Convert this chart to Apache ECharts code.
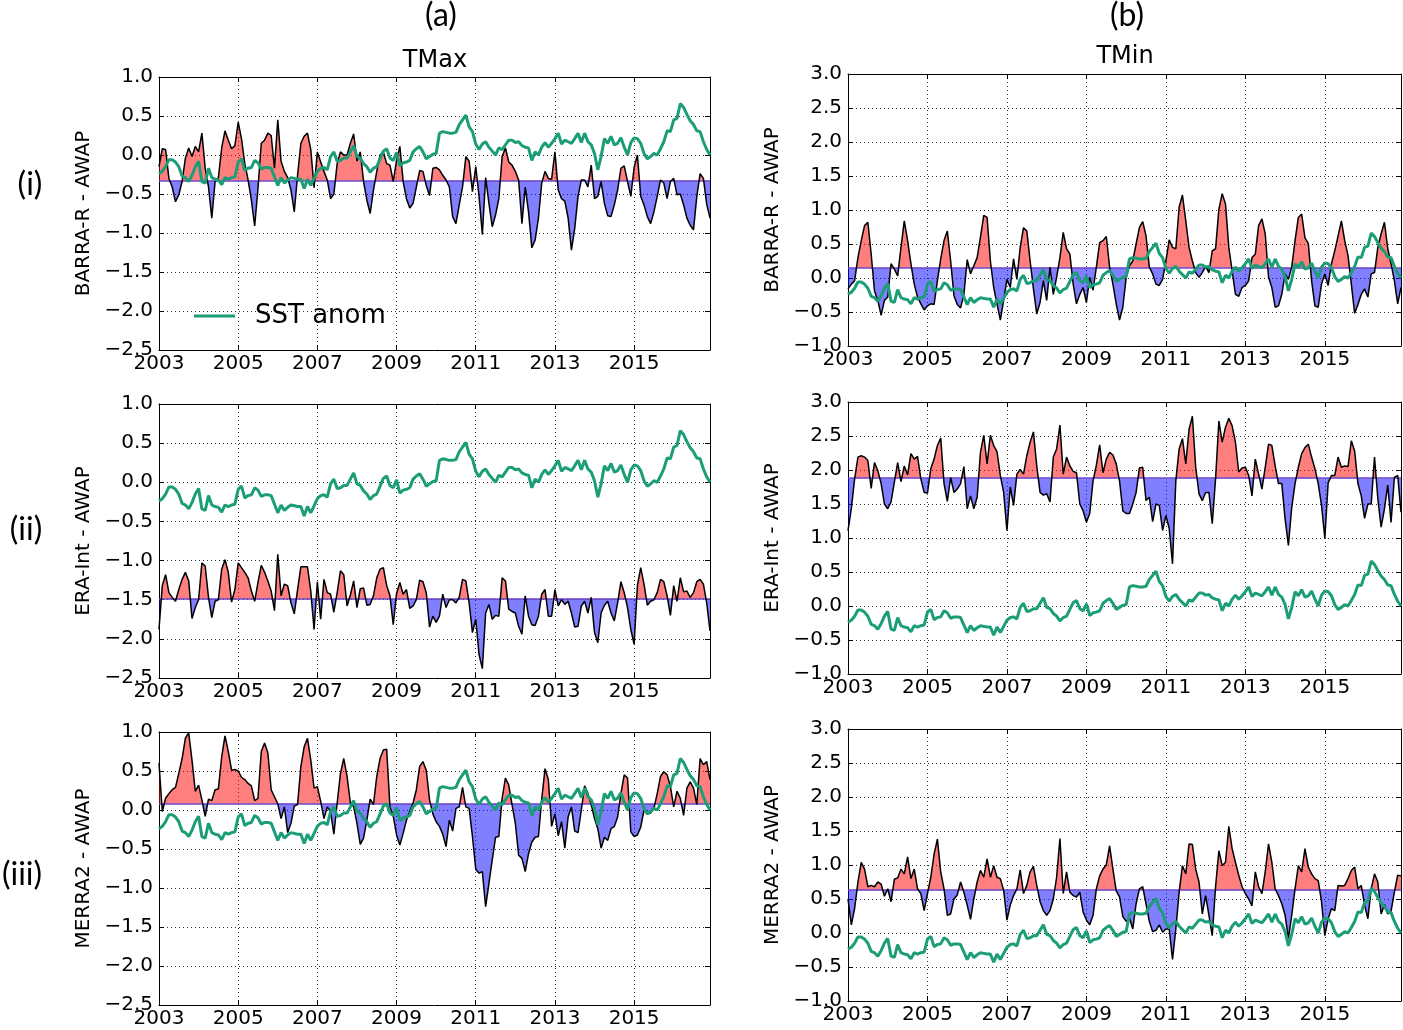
<!DOCTYPE html>
<html><head><meta charset="utf-8">
<script src="https://cdn.jsdelivr.net/npm/echarts@6/dist/echarts.min.js"></script>
<style>html,body{margin:0;padding:0;background:#fff}#chart{width:1403px;height:1030px}</style>
</head><body><div id="chart"></div>
<script>
// ---------------- data (monthly, Jan 2003 - Dec 2016) ----------------
const startYear = 2003;
const xTickYears = [2003, 2005, 2007, 2009, 2011, 2013, 2015];
const yTicksTmax = [-2.5, -2.0, -1.5, -1.0, -0.5, 0.0, 0.5, 1.0];
const yTicksTmin = [-1.0, -0.5, 0.0, 0.5, 1.0, 1.5, 2.0, 2.5, 3.0];

const sstAnom = [
 -0.24,-0.21,-0.15,-0.06,-0.06,-0.09,-0.15,-0.27,-0.29,-0.34,-0.26,-0.15,
 -0.08,-0.34,-0.36,-0.17,-0.29,-0.31,-0.32,-0.38,-0.29,-0.31,-0.29,-0.28,
 -0.09,-0.05,-0.20,-0.17,-0.16,-0.07,-0.10,-0.18,-0.16,-0.16,-0.17,-0.28,
 -0.39,-0.29,-0.36,-0.32,-0.29,-0.30,-0.31,-0.31,-0.43,-0.31,-0.39,-0.30,
 -0.21,-0.17,-0.16,-0.19,-0.02,0.04,-0.08,-0.07,-0.04,-0.04,0.04,0.12,
 -0.02,-0.04,-0.11,-0.15,-0.22,-0.17,-0.15,-0.05,0.05,0.08,-0.04,-0.07,
 0.03,-0.14,-0.10,-0.09,-0.07,0.04,0.08,0.11,0.04,-0.05,-0.02,0.01,
 0.02,0.28,0.30,0.29,0.28,0.28,0.29,0.39,0.45,0.51,0.36,0.30,
 0.14,0.07,0.14,0.17,0.10,0.05,0.00,0.09,0.07,0.13,0.19,0.19,
 0.16,0.17,0.12,0.10,0.09,-0.07,0.04,0.00,0.10,0.16,0.10,0.15,
 0.21,0.28,0.14,0.19,0.17,0.15,0.21,0.28,0.16,0.28,0.17,0.13,
 0.02,-0.19,-0.02,0.21,0.15,0.24,0.13,0.15,0.22,0.10,0.00,0.16,
 0.22,0.21,0.15,0.02,-0.05,-0.02,0.02,0.00,0.08,0.17,0.31,0.30,
 0.45,0.47,0.66,0.61,0.52,0.44,0.39,0.31,0.30,0.17,0.07,0.00
];

const barraTmax = [
 -0.15,0.08,0.07,-0.30,-0.41,-0.60,-0.51,-0.34,-0.04,0.09,-0.02,0.11,
 0.04,0.28,-0.17,-0.41,-0.81,-0.34,-0.29,0.09,0.31,0.19,0.08,0.12,
 0.42,0.21,-0.11,-0.32,-0.58,-0.91,-0.43,0.15,0.19,0.28,0.25,-0.17,
 0.45,-0.08,-0.21,-0.29,-0.45,-0.73,-0.26,0.15,0.24,0.28,0.07,-0.42,
 0.04,-0.09,-0.21,-0.32,-0.56,-0.50,-0.11,0.04,0.00,0.00,0.15,0.27,
 -0.08,0.04,-0.34,-0.58,-0.75,-0.45,-0.21,0.00,0.04,-0.11,-0.13,-0.34,
 -0.07,0.11,-0.34,-0.56,-0.68,-0.62,-0.41,-0.20,-0.21,-0.39,-0.52,-0.17,
 -0.16,-0.19,-0.26,-0.32,-0.41,-0.79,-0.88,-0.64,-0.41,-0.02,-0.08,-0.47,
 -0.15,-0.53,-1.02,-0.29,-0.62,-0.92,-0.77,-0.56,-0.02,0.09,-0.09,-0.13,
 -0.21,-0.32,-0.88,-0.41,-0.73,-1.19,-1.09,-0.81,-0.36,-0.21,-0.30,-0.31,
 0.04,-0.45,-0.56,-0.59,-0.81,-1.22,-0.94,-0.53,-0.32,-0.32,-0.41,-0.13,
 -0.56,-0.53,-0.34,-0.62,-0.78,-0.79,-0.64,-0.45,-0.17,-0.14,-0.34,-0.53,
 -0.16,0.00,-0.53,-0.64,-0.79,-0.88,-0.73,-0.53,-0.32,-0.36,-0.56,-0.34,
 -0.30,-0.51,-0.50,-0.64,-0.81,-0.90,-0.96,-0.53,-0.24,-0.30,-0.63,-0.81
];

const eraTmax = [
 -1.88,-1.32,-1.18,-1.41,-1.47,-1.52,-1.37,-1.24,-1.15,-1.26,-1.74,-1.60,
 -1.50,-1.03,-1.07,-1.47,-1.73,-1.52,-1.50,-1.11,-0.99,-1.15,-1.53,-1.37,
 -1.03,-1.09,-1.15,-1.22,-1.39,-1.52,-1.28,-1.06,-1.15,-1.26,-1.39,-1.64,
 -0.92,-1.45,-1.30,-1.32,-1.54,-1.68,-1.37,-1.08,-1.08,-1.08,-1.39,-1.88,
 -1.27,-1.75,-1.24,-1.41,-1.43,-1.66,-1.41,-1.13,-1.18,-1.58,-1.44,-1.26,
 -1.60,-1.36,-1.35,-1.57,-1.56,-1.45,-1.22,-1.11,-1.09,-1.32,-1.45,-1.82,
 -1.42,-1.28,-1.43,-1.37,-1.61,-1.58,-1.50,-1.25,-1.27,-1.41,-1.85,-1.71,
 -1.79,-1.71,-1.43,-1.60,-1.50,-1.50,-1.54,-1.47,-1.24,-1.26,-1.54,-1.92,
 -1.75,-2.20,-2.38,-1.67,-1.56,-1.75,-1.70,-1.71,-1.22,-1.26,-1.62,-1.65,
 -1.67,-1.84,-1.94,-1.45,-1.71,-1.82,-1.83,-1.71,-1.43,-1.37,-1.71,-1.71,
 -1.37,-1.58,-1.50,-1.56,-1.52,-1.67,-1.85,-1.84,-1.58,-1.52,-1.67,-1.47,
 -1.92,-2.05,-1.67,-1.57,-1.52,-1.67,-1.77,-1.54,-1.27,-1.41,-1.60,-1.88,
 -2.07,-1.32,-1.09,-1.30,-1.57,-1.52,-1.50,-1.41,-1.24,-1.27,-1.45,-1.70,
 -1.32,-1.52,-1.22,-1.40,-1.39,-1.47,-1.41,-1.27,-1.24,-1.30,-1.54,-1.90
];

const merraTmax = [
 0.60,-0.02,0.15,0.21,0.26,0.29,0.47,0.66,0.92,0.99,0.64,0.24,
 0.32,0.13,-0.08,0.14,0.12,0.26,0.27,0.68,0.95,0.75,0.51,0.52,
 0.50,0.42,0.39,0.34,0.31,0.12,0.15,0.75,0.86,0.73,0.26,0.17,
 0.08,-0.11,0.04,-0.29,-0.17,0.05,0.07,0.56,0.81,0.92,0.64,0.28,
 0.30,0.11,-0.11,0.04,-0.02,-0.31,0.09,0.47,0.66,0.43,0.09,0.04,
 -0.17,-0.44,-0.36,-0.13,0.14,0.07,0.43,0.66,0.77,0.78,0.04,-0.08,
 -0.32,-0.45,-0.30,-0.13,-0.02,0.09,0.26,0.56,0.62,0.51,0.13,-0.05,
 -0.15,-0.21,-0.31,-0.47,-0.13,-0.27,0.02,0.04,0.29,0.04,0.02,-0.34,
 -0.76,-0.81,-0.79,-1.24,-0.94,-0.64,-0.35,-0.34,0.15,0.41,0.32,0.07,
 -0.17,-0.58,-0.62,-0.79,-0.56,-0.41,-0.35,-0.34,0.14,0.53,0.39,-0.21,
 -0.05,-0.33,-0.15,-0.49,-0.09,0.04,-0.27,-0.29,0.00,0.31,0.21,0.07,
 -0.11,-0.24,-0.49,-0.35,-0.39,-0.24,-0.21,-0.09,0.21,0.45,0.41,-0.28,
 -0.34,-0.32,-0.22,0.00,-0.05,-0.04,0.02,0.21,0.43,0.49,0.45,0.30,
 0.04,0.24,0.15,-0.07,0.28,0.36,0.28,0.07,0.66,0.58,0.62,0.39
];

const barraTmin = [
 -0.16,-0.09,-0.04,0.30,0.55,0.77,0.82,0.35,-0.19,-0.33,-0.55,-0.33,
 -0.28,0.21,0.13,0.03,0.45,0.84,0.55,0.21,-0.09,-0.28,-0.38,-0.47,
 -0.41,-0.38,-0.39,-0.04,0.28,0.55,0.69,0.25,-0.26,-0.39,-0.44,-0.24,
 0.27,0.06,0.18,0.30,0.60,0.92,0.89,0.25,-0.14,-0.38,-0.62,-0.33,
 -0.02,-0.14,0.28,-0.02,0.45,0.74,0.69,0.25,-0.16,-0.53,-0.36,-0.04,
 -0.33,0.16,-0.24,0.01,0.30,0.67,0.43,0.35,-0.09,-0.38,-0.24,-0.14,
 -0.36,0.01,-0.18,0.16,0.52,0.55,0.61,0.16,-0.09,-0.38,-0.62,-0.43,
 0.01,0.18,0.25,0.50,0.74,0.83,0.62,0.16,0.06,-0.09,-0.11,-0.02,
 0.25,0.56,0.45,0.43,1.04,1.22,0.84,0.45,0.25,0.08,0.01,0.08,
 0.17,0.08,0.40,0.43,1.01,1.24,1.09,0.45,0.11,-0.24,-0.27,-0.14,
 -0.11,-0.04,0.30,0.35,0.77,0.87,0.65,0.01,-0.14,-0.43,-0.41,-0.24,
 0.06,-0.02,0.16,0.55,0.89,0.94,0.59,0.51,-0.04,-0.41,-0.43,-0.09,
 0.06,-0.11,0.21,0.40,0.62,0.84,0.55,0.33,-0.09,-0.52,-0.39,-0.24,
 -0.16,-0.28,0.06,0.08,0.45,0.65,0.82,0.43,0.21,-0.04,-0.38,-0.14
];

const eraTmin = [
 1.11,1.43,1.87,2.19,2.21,2.19,2.14,1.73,2.11,1.99,1.80,1.50,
 1.43,1.53,1.82,2.11,1.83,2.06,1.93,2.24,2.16,2.20,1.87,1.67,
 1.66,2.02,2.16,2.36,2.47,1.80,1.54,1.89,1.67,1.72,1.80,2.05,
 1.43,1.62,1.43,1.60,2.26,2.51,2.09,2.51,2.36,2.27,1.92,1.67,
 1.11,1.75,1.48,1.94,2.01,1.94,2.21,2.41,2.56,2.06,1.67,1.63,
 1.65,1.53,2.19,2.31,2.66,1.94,2.19,2.06,1.98,1.96,1.50,1.40,
 1.23,1.36,1.84,2.07,2.37,1.96,2.16,2.26,2.22,2.09,1.84,1.40,
 1.36,1.36,1.50,1.67,2.03,2.04,1.55,1.60,1.24,1.50,1.48,1.11,
 1.33,1.14,0.62,1.84,2.31,2.46,2.09,2.60,2.79,2.04,1.65,1.55,
 1.67,1.67,1.21,1.87,2.72,2.41,2.63,2.76,2.65,2.41,1.97,2.03,
 2.04,1.92,1.62,2.16,1.94,1.72,2.04,2.38,2.36,2.06,1.80,1.80,
 1.28,0.89,1.45,1.80,2.04,2.24,2.33,2.38,2.19,2.02,1.80,1.48,
 1.00,1.81,1.92,1.92,2.19,2.04,2.06,2.05,2.43,2.28,1.80,1.62,
 1.29,1.50,1.50,2.19,1.58,1.16,1.43,1.78,1.23,1.89,1.92,1.38
];

const merraTmin = [
 0.50,0.12,0.36,0.75,1.04,0.94,0.68,0.70,0.68,0.75,0.72,0.54,
 0.65,0.46,0.79,0.81,0.94,0.87,1.12,0.80,0.94,0.65,0.58,0.33,
 0.58,0.82,1.16,1.38,0.90,0.65,0.26,0.28,0.50,0.56,0.75,0.60,
 0.41,0.20,0.50,0.75,0.92,0.82,1.09,0.82,0.99,0.82,0.80,0.63,
 0.19,0.41,0.55,0.65,0.93,0.58,0.70,0.90,0.98,0.70,0.46,0.33,
 0.26,0.33,0.50,0.82,1.39,0.58,0.90,0.60,0.55,0.53,0.60,0.31,
 0.19,0.12,0.26,0.65,0.84,0.94,1.00,1.28,0.94,0.62,0.53,0.24,
 0.17,0.22,0.06,0.43,0.65,0.68,0.43,0.17,0.02,0.04,0.12,0.01,
 0.06,0.06,-0.39,0.06,0.60,0.99,0.87,1.31,1.30,0.94,0.75,0.28,
 0.55,0.26,-0.04,0.68,1.21,0.99,1.04,1.57,1.24,1.04,0.85,0.68,
 0.58,0.50,0.40,0.90,0.68,0.58,0.90,1.31,1.04,0.65,0.55,0.43,
 0.26,-0.08,0.26,0.65,0.99,0.90,1.24,0.97,0.87,0.80,0.77,0.46,
 -0.04,0.21,0.36,0.33,0.70,0.69,0.70,0.80,0.92,0.97,0.65,0.70,
 0.41,0.21,0.65,0.87,0.75,0.28,0.42,0.28,0.32,0.60,0.85,0.84
];

const panelMeans = [-0.33, -1.49, 0.08, 0.15, 1.88, 0.63];
const panelYNames = ['BARRA-R - AWAP', 'ERA-Int - AWAP', 'MERRA2 - AWAP',
                     'BARRA-R - AWAP', 'ERA-Int - AWAP', 'MERRA2 - AWAP'];
const columnTitles = ['TMax', 'TMin'];
const columnLetters = ['(a)', '(b)'];
const rowLabels = ['(i)', '(ii)', '(iii)'];
const legendLabel = 'SST anom';

// ---------------- layout / style ----------------
const panelBoxes = [
  {left: 159, top: 77,  width: 551, height: 273, col: 0},
  {left: 159, top: 404, width: 551, height: 274, col: 0},
  {left: 159, top: 732, width: 551, height: 273, col: 0},
  {left: 848, top: 74,  width: 553, height: 272, col: 1},
  {left: 848, top: 402, width: 553, height: 272, col: 1},
  {left: 848, top: 729, width: 553, height: 272, col: 1}
];
const FONT = 'DejaVu Sans';
const GREEN = '#1b9e77';
const biasSeries = [barraTmax, eraTmax, merraTmax, barraTmin, eraTmin, merraTmin];
const xEnd = startYear + (sstAnom.length - 1) / 12;
const toPairs = vals => vals.map((v, i) => [startYear + i / 12, v]);
const fmtNum = v => (v < -1e-9 ? '\u2212' : '') + Math.abs(v).toFixed(1);

const grid = [], xAxis = [], yAxis = [], series = [], visualMap = [];
const frameLine = {show: true, onZero: false, lineStyle: {color: '#000', width: 1}};
const tickIn = {show: true, inside: true, length: 5, lineStyle: {color: '#000', width: 1}};
const dotted = {show: true, lineStyle: {type: [1, 3], color: '#333', width: 1}};

panelBoxes.forEach((b, i) => {
  grid.push({left: b.left, top: b.top, width: b.width, height: b.height,
             containLabel: false, outerBoundsMode: 'none'});
  const yt = b.col === 0 ? yTicksTmax : yTicksTmin;
  const yMin = yt[0], yMax = yt[yt.length - 1], yInt = yt[1] - yt[0];
  xAxis.push({type: 'value', gridIndex: i, position: 'bottom', min: startYear, max: xEnd, interval: 2,
    axisLine: frameLine, axisTick: tickIn, splitLine: dotted,
    axisLabel: {show: true, margin: 4, fontSize: 20, fontFamily: FONT, color: '#000',
      showMaxLabel: false, formatter: v => (xTickYears.indexOf(v) >= 0 ? String(v) : '')}});
  xAxis.push({type: 'value', gridIndex: i, position: 'top', min: startYear, max: xEnd, interval: 2,
    axisLine: frameLine, axisTick: tickIn, splitLine: {show: false}, axisLabel: {show: false}});
  yAxis.push({type: 'value', gridIndex: i, position: 'left', min: yMin, max: yMax, interval: yInt,
    axisLine: frameLine, axisTick: tickIn, splitLine: dotted,
    name: panelYNames[i], nameLocation: 'middle', nameGap: 65, nameRotate: 90,
    nameTextStyle: {fontSize: 20, fontFamily: FONT, color: '#000'},
    axisLabel: {show: true, margin: 6, fontSize: 20, fontFamily: FONT, color: '#000', formatter: fmtNum}});
  yAxis.push({type: 'value', gridIndex: i, position: 'right', min: yMin, max: yMax, interval: yInt,
    axisLine: frameLine, axisTick: tickIn, splitLine: {show: false}, axisLabel: {show: false}});

  const data = toPairs(biasSeries[i]);
  const mean = panelMeans[i];
  series.push({type: 'line', name: 'fill' + i, xAxisIndex: 2 * i, yAxisIndex: 2 * i, data: data,
    symbol: 'none', showSymbol: false, silent: true, z: 2,
    lineStyle: {width: 0, opacity: 0},
    areaStyle: {origin: mean, opacity: 1},
    markLine: {silent: true, symbol: 'none', label: {show: false}, z: 3,
      lineStyle: {color: '#6a46c8', width: 1.6, type: 'solid', opacity: 1},
      emphasis: {disabled: true}, data: [{yAxis: mean}]}});
  visualMap.push({type: 'piecewise', show: false, seriesIndex: series.length - 1, dimension: 1,
    pieces: [{gte: -10, lt: mean, color: 'rgba(0,0,255,0.5)'},
             {gte: mean, lte: 10, color: 'rgba(255,0,0,0.5)'}]});
  series.push({type: 'line', name: 'bias' + i, xAxisIndex: 2 * i, yAxisIndex: 2 * i, data: data,
    symbol: 'none', showSymbol: false, silent: true, z: 4,
    lineStyle: {color: '#000', width: 1.5}, itemStyle: {color: '#000'}});
  series.push({type: 'line', name: legendLabel, xAxisIndex: 2 * i, yAxisIndex: 2 * i, data: toPairs(sstAnom),
    symbol: 'none', showSymbol: false, silent: true, z: 5,
    lineStyle: {color: GREEN, width: 3}, itemStyle: {color: GREEN}});
});

const txt = (text, x, y, font) => ({type: 'text', x: x, y: y, silent: true,
  style: {text: text, font: font, fill: '#000', textAlign: 'center', textVerticalAlign: 'middle', verticalAlign: 'middle'}});

const chart = echarts.init(document.getElementById('chart'), null, {renderer: 'canvas'});
chart.setOption({
  animation: false,
  backgroundColor: '#fff',
  grid, xAxis, yAxis, series, visualMap,
  legend: {data: [{name: legendLabel, icon: 'rect'}], left: 189, top: 298, itemWidth: 41, itemHeight: 3,
    selectedMode: false, textStyle: {fontSize: 26, fontFamily: FONT, color: '#000', padding: [0, 0, 0, 15]}},
  graphic: [
    txt(columnLetters[0], 441, 16, '32px Lato'),
    txt(columnLetters[1], 1127, 16, '32px Lato'),
    txt(columnTitles[0], 435, 61, '24px "DejaVu Sans"'),
    txt(columnTitles[1], 1125, 57, '24px "DejaVu Sans"'),
    txt(rowLabels[0], 30, 185, '32px Lato'),
    txt(rowLabels[1], 26, 530, '32px Lato'),
    txt(rowLabels[2], 22, 875, '32px Lato')
  ]
});
</script></body></html>
